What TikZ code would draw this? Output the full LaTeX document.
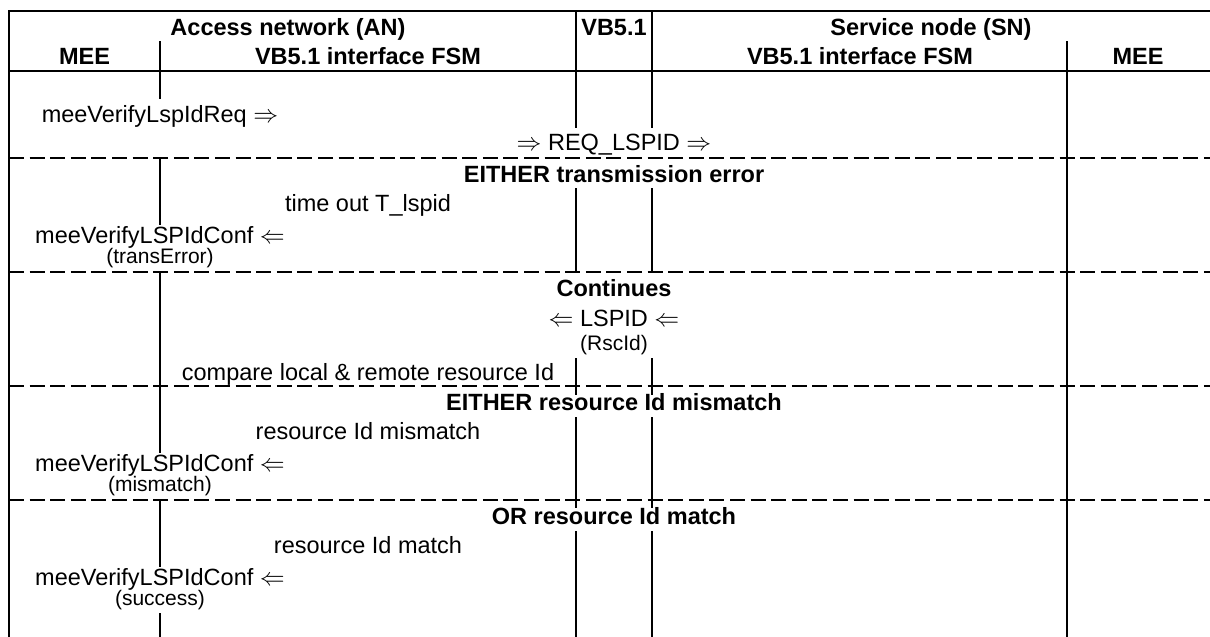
\documentclass[tikz,border=0pt]{standalone}
\usepackage{fontspec}
\setmainfont{Liberation Sans}
\begin{document}
\begin{tikzpicture}[x=1pt,y=-1pt,
  solidline/.style={line width=1.9pt},
  sepline/.style={line width=2.8pt, dash pattern=on 15pt off 5.6pt},
  lbl/.style={inner sep=0pt, anchor=base, font=\fontsize{23.5}{28}\selectfont},
  hdr/.style={lbl, font=\fontsize{23.5}{28}\selectfont\bfseries},
  note/.style={lbl, font=\fontsize{21}{25}\selectfont}]
\useasboundingbox (0,0) rectangle (1210,637);
% frame and header separator
\draw[solidline] (9,637) -- (9,11) -- (1210,11);
\draw[solidline] (9,71) -- (1210,71);
% dashed separators
\foreach \yy in {158,272,386,500} \draw[sepline] (9,\yy) -- (1210,\yy);
% AN MEE | FSM line
\foreach \a/\b in {41/99,158/225,272/453,500/567,613/637}
  \draw[solidline] (160,\a) -- (160,\b);
% VB5.1 lines
\foreach \a/\b in {11/128,188/272,358/395,417/508,531/637} {
  \draw[solidline] (576,\a) -- (576,\b);
  \draw[solidline] (652,\a) -- (652,\b);
}
% SN FSM | MEE line
\draw[solidline] (1067,41) -- (1067,637);
% header
\node[hdr] (anH) at (288,35) {Access network (AN)};
\node[hdr] (vbH) at (614,35) {VB5.1};
\node[hdr] (snH) at (931,35) {Service node (SN)};
\node[hdr] (meeA) at (84.5,64) {MEE};
\node[hdr] (fsmA) at (368,64) {VB5.1 interface FSM};
\node[hdr] (fsmS) at (860,64) {VB5.1 interface FSM};
\node[hdr] (meeS) at (1138,64) {MEE};
% body
\node[lbl] (req) at (160,122.5) {meeVerifyLspIdReq $\Rightarrow$};
\node[lbl] (reqlsp) at (614,150) {$\Rightarrow$ REQ\_LSPID $\Rightarrow$};
\node[hdr] (either1) at (614,182) {EITHER transmission error};
\node[lbl] (tout) at (368,211) {time out T\_lspid};
\node[lbl] (conf1) at (160,243) {meeVerifyLSPIdConf $\Leftarrow$};
\node[note] (terr) at (160,263) {(transError)};
\node[hdr] (cont) at (614,296) {Continues};
\node[lbl] (lspid) at (614,326) {$\Leftarrow$ LSPID $\Leftarrow$};
\node[note] (rsc) at (614,350) {(RscId)};
\node[lbl] (cmp) at (368,380) {compare local \& remote resource Id};
\node[hdr] (either2) at (614,410) {EITHER resource Id mismatch};
\node[lbl] (mis) at (368,439) {resource Id mismatch};
\node[lbl] (conf2) at (160,471) {meeVerifyLSPIdConf $\Leftarrow$};
\node[note] (mism) at (160,491) {(mismatch)};
\node[hdr] (orm) at (614,524) {OR resource Id match};
\node[lbl] (mat) at (368,553) {resource Id match};
\node[lbl] (conf3) at (160,585) {meeVerifyLSPIdConf $\Leftarrow$};
\node[note] (succ) at (160,605) {(success)};
\end{tikzpicture}
\end{document}
